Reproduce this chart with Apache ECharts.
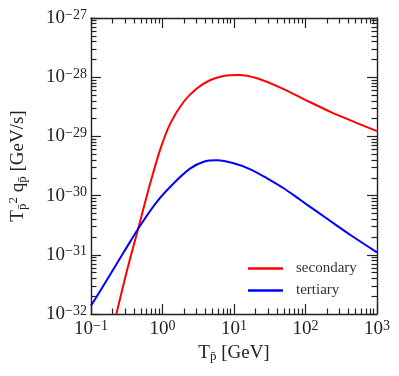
<!DOCTYPE html>
<html lang="en">
<head>
<meta charset="UTF-8">
<title>antiproton source</title>
<script src="https://cdn.jsdelivr.net/npm/echarts@6.0.0/dist/echarts.min.js"></script>
<style>
  html, body { margin: 0; padding: 0; background: #fff; }
  #main { width: 399px; height: 376px; }
</style>
</head>
<body>
<div id="main"></div>
<script>
// values (T in GeV, q in GeV/s)
var secondaryT = [0.2265, 0.320, 0.4645, 0.678, 0.935, 1.288, 1.98, 3.05, 4.68, 7.18, 11.6, 21.0, 44.6, 94.4, 223, 527, 1000];
var secondaryQ = [1.0e-32, 5.53e-32, 2.99e-31, 1.66e-30, 6.17e-30, 1.66e-29, 3.85e-29, 6.49e-29, 8.97e-29, 1.047e-28, 1.089e-28, 9.57e-29, 6.65e-29, 4.27e-29, 2.60e-29, 1.68e-29, 1.23e-29];
var tertiaryT = [0.1, 0.1866, 0.2864, 0.491, 0.839, 1.436, 2.455, 3.767, 5.81, 9.91, 16.9, 29.0, 49.5, 84.9, 145, 248, 425, 1000];
var tertiaryQ = [1.38e-32, 4.68e-32, 1.10e-31, 3.16e-31, 7.94e-31, 1.62e-30, 2.88e-30, 3.74e-30, 3.94e-30, 3.51e-30, 2.78e-30, 1.96e-30, 1.33e-30, 8.43e-31, 5.35e-31, 3.40e-31, 2.16e-31, 1.10e-31];

var xDecades = [-1, 0, 1, 2, 3];
var yDecades = [-32, -31, -30, -29, -28, -27];

// log axes drawn as value axes on log10 values
function toLog(ts, qs) {
    return ts.map(function (t, i) { return [Math.log10(t), Math.log10(qs[i])]; });
}
function minorTicks(decades) {
    var out = [];
    for (var i = 0; i < decades.length - 1; i++) {
        for (var k = 2; k <= 9; k++) out.push(decades[i] + Math.log10(k));
    }
    return out;
}
function powLabel(v) {
    var n = Math.round(v);
    return '{b|10}{s|' + (n < 0 ? '\u2212' : '') + Math.abs(n) + '}';
}

var serif = '"Liberation Serif", "DejaVu Serif", serif';
var ink = '#222';
var labelRich = {
    b: { fontFamily: serif, fontSize: 19, color: ink, lineHeight: 20 },
    s: { fontFamily: serif, fontSize: 14, color: ink, lineHeight: 14, verticalAlign: 'top' }
};

function axis(dim, pos, decades, major, withLabel, extra) {
    var a = {
        type: 'value',
        position: pos,
        min: decades[0],
        max: decades[decades.length - 1],
        interval: 1,
        splitLine: { show: false },
        axisLine: { show: major, onZero: false, lineStyle: { color: ink, width: 1.4 } },
        axisTick: {
            show: true,
            inside: true,
            length: major ? 10 : 5.5,
            lineStyle: { color: ink, width: 1.2 }
        },
        axisLabel: withLabel ? {
            show: true,
            margin: dim === 'x' ? 5 : 4,
            formatter: powLabel,
            rich: labelRich
        } : { show: false }
    };
    if (!major) a.axisTick.customValues = minorTicks(decades);
    for (var k in extra) a[k] = extra[k];
    return a;
}

var chart = echarts.init(document.getElementById('main'));

var option = {
    animation: false,
    backgroundColor: '#fff',
    grid: { left: 91, right: 22, top: 18, bottom: 62, containLabel: false, outerBoundsMode: 'none' },
    legend: {
        orient: 'vertical',
        left: 243,
        top: 256,
        icon: 'rect',
        itemWidth: 35,
        itemHeight: 2.5,
        itemGap: 7,
        textStyle: { fontFamily: serif, fontSize: 15, color: '#333', padding: [0, 0, 0, 8] },
        data: ['secondary', 'tertiary']
    },
    xAxis: [
        axis('x', 'bottom', xDecades, true, true, {
            name: '{m|T}{s|p\u0304}{m| [GeV]}',
            nameLocation: 'middle',
            nameGap: 30,
            nameTextStyle: {
                rich: {
                    m: { fontFamily: serif, fontSize: 19, color: ink },
                    s: { fontFamily: serif, fontSize: 13, color: ink, verticalAlign: 'bottom', padding: [6, 0, 0, 0] }
                }
            }
        }),
        axis('x', 'bottom', xDecades, false, false, {}),
        axis('x', 'top', xDecades, true, false, {}),
        axis('x', 'top', xDecades, false, false, {})
    ],
    yAxis: [
        axis('y', 'left', yDecades, true, true, {
            name: '{m|T}{s|p\u0304}{t|2}{m| q}{s|p\u0304}{m| [GeV/s]}',
            nameLocation: 'middle',
            nameGap: 62,
            nameTextStyle: {
                rich: {
                    m: { fontFamily: serif, fontSize: 19, color: ink, lineHeight: 22 },
                    s: { fontFamily: serif, fontSize: 13, color: ink, verticalAlign: 'bottom', padding: [8, 0, 0, 0] },
                    t: { fontFamily: serif, fontSize: 13, color: ink, verticalAlign: 'top' }
                }
            }
        }),
        axis('y', 'left', yDecades, false, false, {}),
        axis('y', 'right', yDecades, true, false, {}),
        axis('y', 'right', yDecades, false, false, {})
    ],
    series: [
        {
            name: 'secondary',
            type: 'line',
            data: toLog(secondaryT, secondaryQ),
            showSymbol: false,
            smooth: 0.3,
            color: '#ff0000',
            lineStyle: { width: 2, color: '#ff0000' }
        },
        {
            name: 'tertiary',
            type: 'line',
            data: toLog(tertiaryT, tertiaryQ),
            showSymbol: false,
            smooth: 0.3,
            color: '#0000ff',
            lineStyle: { width: 2, color: '#0000ff' }
        }
    ]
};

chart.setOption(option);
</script>
</body>
</html>
